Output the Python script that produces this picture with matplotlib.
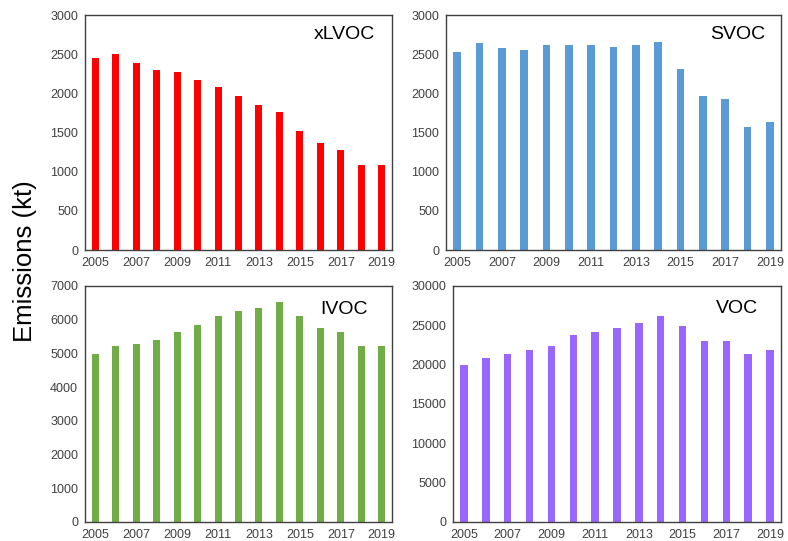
import numpy as np
import matplotlib.pyplot as plt

plt.rcParams['font.family'] = ['Liberation Sans', 'DejaVu Sans']

years = list(range(2005, 2020))

xlvoc = [2450, 2500, 2390, 2300, 2270, 2175, 2080, 1960, 1845, 1765, 1515, 1360, 1275, 1080, 1080]
svoc = [2530, 2645, 2585, 2555, 2620, 2615, 2620, 2590, 2620, 2655, 2310, 1970, 1930, 1570, 1630]
ivoc = [4970, 5230, 5270, 5410, 5640, 5830, 6120, 6250, 6360, 6515, 6100, 5745, 5640, 5210, 5230]
voc = [20000, 20900, 21400, 21900, 22350, 23750, 24100, 24700, 25300, 26150, 24950, 23050, 23050, 21400, 21900]

W, H = 788, 541
fig = plt.figure(figsize=(W / 100, H / 100), dpi=100)

# (name, values, colour, ymax, ystep, axes box in pixels: left, top, right, bottom, label x/y in axes coords)
panels = [
    ('xLVOC', xlvoc, '#FF0000', 3000, 500, (85, 15, 392, 250), (0.945, 0.915)),
    ('SVOC', svoc, '#5B9BD5', 3000, 500, (446, 15, 781, 250), (0.952, 0.915)),
    ('IVOC', ivoc, '#70AD47', 7000, 1000, (85, 286, 392, 522), (0.922, 0.90)),
    ('VOC', voc, '#9966FF', 30000, 5000, (453, 286, 781, 522), (0.93, 0.905)),
]

x = np.arange(len(years))
for name, vals, color, ymax, ystep, (l, t, r, b), (lx, ly) in panels:
    ax = fig.add_axes([l / W, 1 - b / H, (r - l) / W, (b - t) / H])
    ax.bar(x, vals, width=0.34, color=color)
    ax.set_xlim(-0.5, len(years) - 0.5)
    ax.set_ylim(0, ymax)
    ax.set_yticks(np.arange(0, ymax + 1, ystep))
    ax.set_xticks(x[::2])
    ax.set_xticklabels([str(y) for y in years[::2]])
    ax.tick_params(length=0, labelsize=9, colors='#404040', pad=5)
    for s in ax.spines.values():
        s.set_color('#404040')
        s.set_linewidth(1.0)
    ax.text(lx, ly, name, transform=ax.transAxes, ha='right', va='center',
            fontsize=14, color='black')

fig.text(25 / W, 1 - 261 / H, 'Emissions (kt)', rotation=90, ha='center', va='center',
         fontsize=18.5, color='black')

fig.savefig('out.png', dpi=100)
